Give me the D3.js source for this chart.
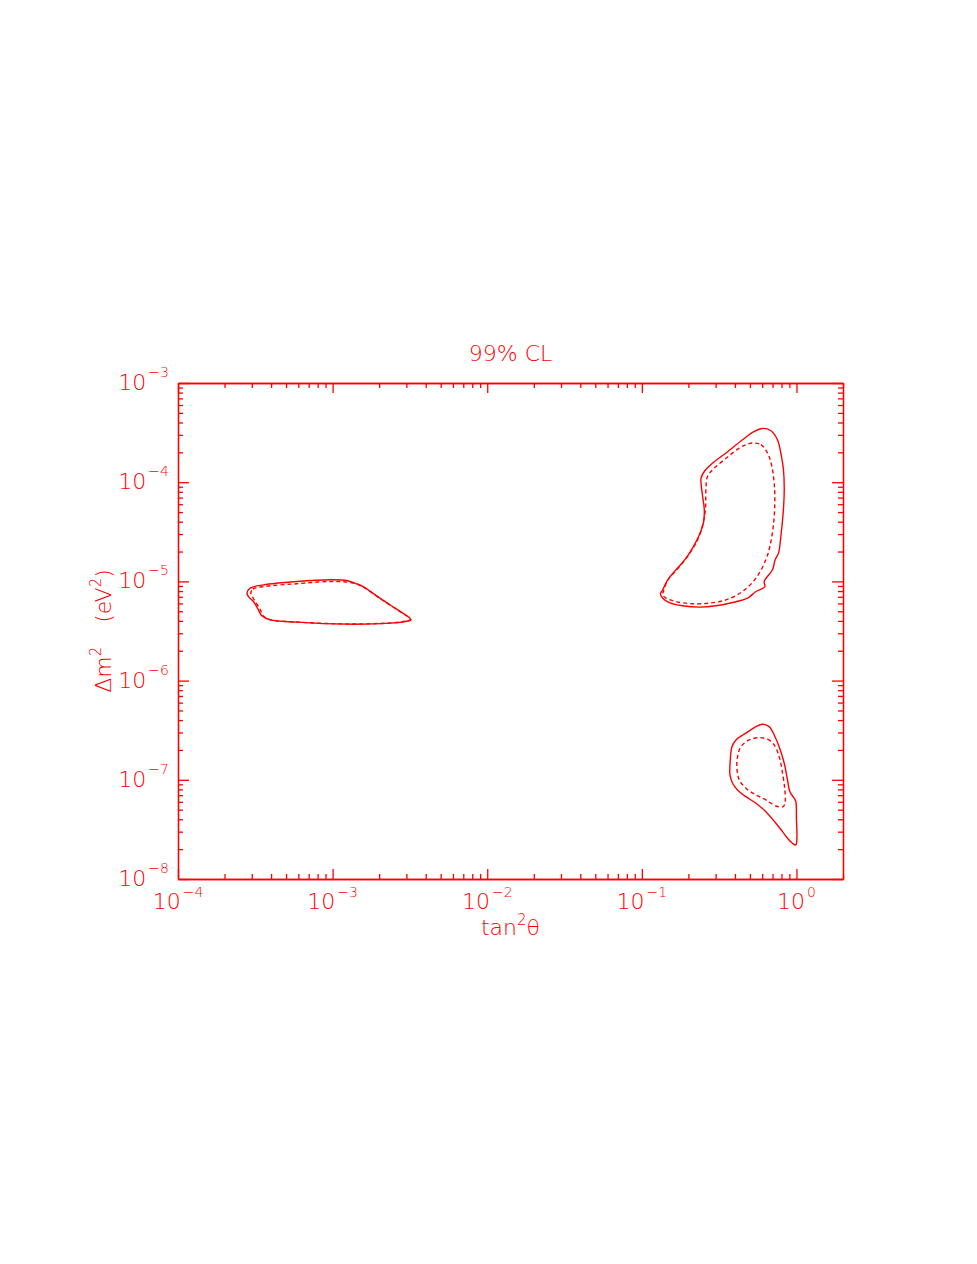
<!DOCTYPE html>
<html>
<head>
<meta charset="utf-8">
<script src="https://cdn.jsdelivr.net/npm/d3@7"></script>
<style>
    body { margin: 0; background: #fff; }
    svg text { font-family: "DejaVu Sans", "Liberation Sans", sans-serif; font-weight: 200; fill: #ff0000; }
    .axis path, .axis line { stroke: #ff0000; stroke-width: 1.3; }
    .contour { fill: none; stroke: #ff0000; stroke-width: 1.4; }
</style>
</head>
<body>
<svg id="chart" width="977" height="1264"></svg>
<script>
// axis ranges and tick label exponents
var xDomain = [1e-4, 2];
var yDomain = [1e-8, 1e-3];
var xLabelExps = [-4, -3, -2, -1, 0];
var yLabelExps = [-8, -7, -6, -5, -4, -3];

// contours as [log10 tan^2(theta), log10 dm^2]
var smaSolid = [[-3.554,-5.118],[-3.533,-5.068],[-3.447,-5.035],[-3.232,-5.001],[-3.017,-4.984],[-2.909,-4.991],
    [-2.844,-5.024],[-2.802,-5.052],[-2.694,-5.169],[-2.586,-5.280],[-2.500,-5.370],[-2.494,-5.388],[-2.533,-5.405],
    [-2.629,-5.421],[-2.909,-5.431],[-3.232,-5.411],[-3.404,-5.388],[-3.458,-5.347],[-3.480,-5.287],[-3.512,-5.203],
    [-3.544,-5.153]];
var smaDashed = [[-3.529,-5.118],[-3.516,-5.078],[-3.447,-5.052],[-3.232,-5.024],[-3.017,-5.001],[-2.866,-5.017],
    [-2.802,-5.058],[-2.694,-5.172],[-2.586,-5.282],[-2.503,-5.370],[-2.497,-5.386],[-2.533,-5.402],[-2.629,-5.419],
    [-2.909,-5.429],[-3.232,-5.409],[-3.404,-5.386],[-3.450,-5.345],[-3.469,-5.280],[-3.501,-5.203],[-3.522,-5.145]];
var lmaSolid = [[-0.220,-3.458],[-0.165,-3.481],[-0.123,-3.572],[-0.101,-3.706],[-0.084,-3.875],[-0.079,-4.076],
    [-0.086,-4.311],[-0.101,-4.547],[-0.116,-4.715],[-0.138,-4.782],[-0.155,-4.883],[-0.209,-5.001],[-0.204,-5.052],
    [-0.262,-5.102],[-0.316,-5.169],[-0.413,-5.213],[-0.520,-5.246],[-0.628,-5.259],[-0.736,-5.246],[-0.822,-5.213],
    [-0.865,-5.169],[-0.880,-5.125],[-0.865,-5.085],[-0.833,-4.984],[-0.779,-4.883],[-0.714,-4.765],[-0.660,-4.631],
    [-0.628,-4.530],[-0.602,-4.412],[-0.596,-4.278],[-0.607,-4.144],[-0.617,-4.009],[-0.617,-3.958],[-0.596,-3.892],
    [-0.542,-3.807],[-0.456,-3.706],[-0.349,-3.572],[-0.273,-3.488]];
var lmaDashed = [[-0.284,-3.605],[-0.230,-3.622],[-0.187,-3.706],[-0.159,-3.841],[-0.144,-4.009],[-0.140,-4.210],
    [-0.150,-4.446],[-0.172,-4.648],[-0.198,-4.782],[-0.262,-4.967],[-0.349,-5.102],[-0.456,-5.186],[-0.564,-5.219],
    [-0.671,-5.226],[-0.779,-5.203],[-0.843,-5.169],[-0.865,-5.135],[-0.860,-5.100],[-0.833,-4.990],[-0.779,-4.890],
    [-0.714,-4.770],[-0.660,-4.640],[-0.628,-4.540],[-0.605,-4.420],[-0.589,-4.278],[-0.585,-4.043],[-0.575,-3.942],
    [-0.531,-3.857],[-0.445,-3.746],[-0.370,-3.656],[-0.327,-3.622]];
var lowSolid = [[-0.220,-6.440],[-0.176,-6.464],[-0.144,-6.548],[-0.112,-6.666],[-0.079,-6.833],[-0.058,-7.001],
    [-0.043,-7.119],[-0.015,-7.186],[-0.004,-7.220],[0.000,-7.405],[0.003,-7.573],[-0.004,-7.657],[-0.026,-7.640],
    [-0.058,-7.589],[-0.090,-7.523],[-0.133,-7.438],[-0.198,-7.321],[-0.262,-7.236],[-0.327,-7.170],[-0.381,-7.102],
    [-0.413,-7.035],[-0.430,-6.951],[-0.428,-6.800],[-0.417,-6.666],[-0.391,-6.598],[-0.327,-6.530],[-0.262,-6.464]];
var lowDashed = [[-0.241,-6.575],[-0.187,-6.591],[-0.144,-6.648],[-0.112,-6.766],[-0.090,-6.934],[-0.075,-7.102],
    [-0.073,-7.220],[-0.086,-7.271],[-0.133,-7.264],[-0.198,-7.203],[-0.262,-7.153],[-0.327,-7.085],[-0.370,-7.001],
    [-0.385,-6.883],[-0.381,-6.766],[-0.359,-6.666],[-0.305,-6.598]];

var margin = {top: 383, right: 134, bottom: 385, left: 178},
    width = 977, height = 1264;

var svg = d3.select('#chart');

var x = d3.scaleLog().domain(xDomain).range([margin.left, width - margin.right]);
var y = d3.scaleLog().domain(yDomain).range([height - margin.bottom, margin.top]);

function isDecade(v) {
    var l = Math.log10(v);
    return Math.abs(l - Math.round(l)) < 1e-9;
}

var xMajor = x.ticks().filter(isDecade),
    xMinor = x.ticks().filter(function(v) { return !isDecade(v); }),
    yMajor = y.ticks().filter(isDecade),
    yMinor = y.ticks().filter(function(v) { return !isDecade(v); });

// frame with inward ticks on all four sides
function addAxis(axisFn, scale, tr, vals, size) {
    svg.append('g')
        .attr('class', 'axis')
        .attr('transform', tr)
        .call(axisFn(scale).tickValues(vals).tickSize(-size).tickSizeOuter(0).tickFormat(''));
}
var bottomTr = 'translate(0,' + (height - margin.bottom) + ')',
    topTr = 'translate(0,' + margin.top + ')',
    leftTr = 'translate(' + margin.left + ',0)',
    rightTr = 'translate(' + (width - margin.right) + ',0)';

addAxis(d3.axisBottom, x, bottomTr, xMajor, 10);
addAxis(d3.axisBottom, x, bottomTr, xMinor, 5);
addAxis(d3.axisTop, x, topTr, xMajor, 10);
addAxis(d3.axisTop, x, topTr, xMinor, 5);
addAxis(d3.axisLeft, y, leftTr, yMajor, 11);
addAxis(d3.axisLeft, y, leftTr, yMinor, 5);
addAxis(d3.axisRight, y, rightTr, yMajor, 11);
addAxis(d3.axisRight, y, rightTr, yMinor, 5);

// tick labels 10^n
function expText(d) { return d < 0 ? '\u2212' + (-d) : d; }

var xl = svg.append('g').selectAll('text')
    .data(xLabelExps)
    .enter().append('text')
    .attr('x', function(d) { return x(Math.pow(10, d)); })
    .attr('y', height - margin.bottom + 30)
    .attr('text-anchor', 'middle')
    .attr('font-size', 22);
xl.append('tspan').text('10');
xl.append('tspan').attr('dx', 2).attr('dy', -12).attr('font-size', 14).text(expText);

var yl = svg.append('g').selectAll('text')
    .data(yLabelExps)
    .enter().append('text')
    .attr('x', margin.left - 9)
    .attr('y', function(d) { return y(Math.pow(10, d)) + 7; })
    .attr('text-anchor', 'end')
    .attr('font-size', 22);
yl.append('tspan').text('10');
yl.append('tspan').attr('dx', 2).attr('dy', -13).attr('font-size', 14).text(expText);

// titles
var cx = (margin.left + width - margin.right) / 2,
    cy = (margin.top + height - margin.bottom) / 2;

svg.append('text')
    .attr('x', cx).attr('y', 361)
    .attr('text-anchor', 'middle')
    .attr('font-size', 22)
    .text('99% CL');

var xt = svg.append('text')
    .attr('x', cx).attr('y', 935)
    .attr('text-anchor', 'middle')
    .attr('font-size', 22);
xt.append('tspan').text('tan');
xt.append('tspan').attr('dy', -10).attr('font-size', 15).text('2');
xt.append('tspan').attr('dy', 10).text('\u03b8');

var yt = svg.append('text')
    .attr('transform', 'translate(111,' + cy + ') rotate(-90)')
    .attr('text-anchor', 'middle')
    .attr('font-size', 22);
yt.append('tspan').text('\u0394m');
yt.append('tspan').attr('dy', -10).attr('font-size', 15).text('2');
yt.append('tspan').attr('dy', 10).attr('dx', 24).text('(eV');
yt.append('tspan').attr('dy', -10).attr('font-size', 15).text('2');
yt.append('tspan').attr('dy', 10).text(')');

// contours
var line = d3.line()
    .x(function(d) { return x(Math.pow(10, d[0])); })
    .y(function(d) { return y(Math.pow(10, d[1])); })
    .curve(d3.curveCatmullRomClosed.alpha(0.5));

[smaSolid, lmaSolid, lowSolid].forEach(function(c) {
    svg.append('path').attr('class', 'contour').attr('d', line(c));
});
[smaDashed, lmaDashed, lowDashed].forEach(function(c) {
    svg.append('path').attr('class', 'contour').attr('stroke-dasharray', '4,3').attr('d', line(c));
});
</script>
</body>
</html>
